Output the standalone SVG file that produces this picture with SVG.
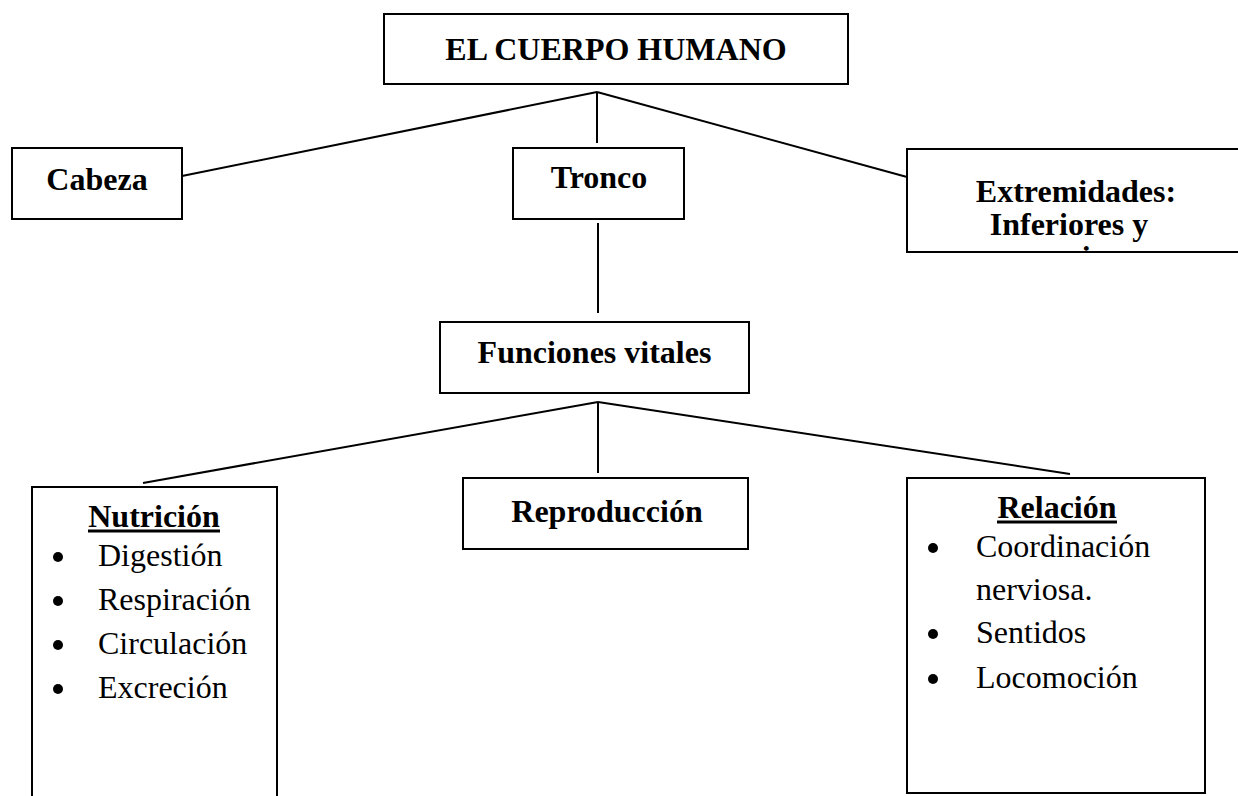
<svg xmlns="http://www.w3.org/2000/svg" width="1238" height="796" viewBox="0 0 1238 796">
<style>
.box{fill:#fff;stroke:#000;stroke-width:2}
.b{font-family:"Liberation Serif","Times New Roman",serif;font-weight:bold;font-size:32px;fill:#000}
.r{font-family:"Liberation Serif","Times New Roman",serif;font-size:32px;fill:#000}
.c{stroke:#000;stroke-width:2;fill:none}
.u{stroke:#000;stroke-width:3}
</style>
<defs>
<clipPath id="clipExt"><rect x="908" y="150" width="340" height="101"/></clipPath>
</defs>
<rect width="1238" height="796" fill="#fff"/>
<g id="connectors">
<line class="c" x1="597" y1="92" x2="182" y2="176"/>
<line class="c" x1="597" y1="92" x2="597" y2="143"/>
<line class="c" x1="597" y1="92" x2="907" y2="177"/>
<line class="c" x1="598" y1="223" x2="598" y2="313"/>
<line class="c" x1="598" y1="402" x2="143" y2="483"/>
<line class="c" x1="598" y1="402" x2="598" y2="473"/>
<line class="c" x1="598" y1="402" x2="1070" y2="474"/>
</g>
<g id="cuerpo">
<rect class="box" x="384" y="14" width="464" height="70"/>
<text class="b" x="616" y="60" text-anchor="middle">EL CUERPO HUMANO</text>
</g>
<g id="cabeza">
<rect class="box" x="12" y="148" width="170" height="71"/>
<text class="b" x="97" y="190" text-anchor="middle">Cabeza</text>
</g>
<g id="tronco">
<rect class="box" x="513" y="148" width="171" height="71"/>
<text class="b" x="599" y="188" text-anchor="middle">Tronco</text>
</g>
<g id="extremidades">
<rect class="box" x="907" y="149" width="340" height="103"/>
<g clip-path="url(#clipExt)">
<text class="b" x="1076" y="202" text-anchor="middle">Extremidades:</text>
<text class="b" x="1069" y="235" text-anchor="middle">Inferiores y</text>
<text class="b" x="1076" y="268" text-anchor="middle">superiores</text>
</g>
</g>
<g id="funciones">
<rect class="box" x="440" y="322" width="309" height="71"/>
<text class="b" x="594.5" y="363" text-anchor="middle">Funciones vitales</text>
</g>
<g id="nutricion">
<rect class="box" x="32" y="487" width="245" height="330"/>
<text class="b" x="154" y="527" text-anchor="middle">Nutrición</text>
<line class="u" x1="88" y1="531" x2="220" y2="531"/>
<circle cx="58" cy="557" r="5"/>
<text class="r" x="98" y="566">Digestión</text>
<circle cx="58" cy="601" r="5"/>
<text class="r" x="98" y="610">Respiración</text>
<circle cx="58" cy="645" r="5"/>
<text class="r" x="98" y="654">Circulación</text>
<circle cx="58" cy="689" r="5"/>
<text class="r" x="98" y="698">Excreción</text>
</g>
<g id="reproduccion">
<rect class="box" x="463" y="478" width="285" height="71"/>
<text class="b" x="607" y="522" text-anchor="middle">Reproducción</text>
</g>
<g id="relacion">
<rect class="box" x="907" y="478" width="298" height="315"/>
<text class="b" x="1057" y="518" text-anchor="middle">Relación</text>
<line class="u" x1="997" y1="522" x2="1117" y2="522"/>
<circle cx="933" cy="548" r="5"/>
<text class="r" x="976" y="557">Coordinación</text>
<text class="r" x="976" y="600">nerviosa.</text>
<circle cx="933" cy="634" r="5"/>
<text class="r" x="976" y="643">Sentidos</text>
<circle cx="933" cy="679" r="5"/>
<text class="r" x="976" y="688">Locomoción</text>
</g>
</svg>
